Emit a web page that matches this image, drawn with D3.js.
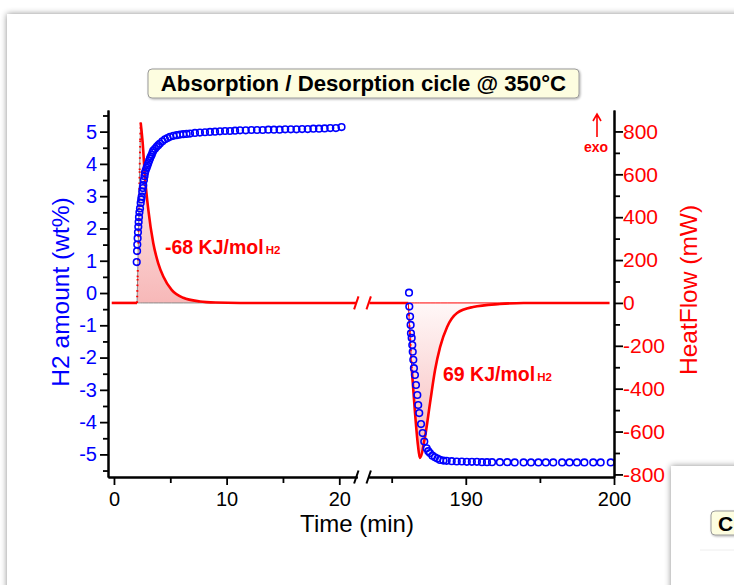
<!DOCTYPE html>
<html>
<head>
<meta charset="utf-8">
<script src="https://cdn.jsdelivr.net/npm/d3@7"></script>
<style>
  body { margin: 0; background: #ffffff; }
  svg { display: block; font-family: "Liberation Sans", Arial, sans-serif; }
</style>
</head>
<body>
<div id="chart"></div>
<script>
// H2 uptake during absorption (min, wt%)
const absTime = [2.02, 2.05, 2.07, 2.10, 2.13, 2.16, 2.19, 2.22, 2.26, 2.31, 2.37, 2.42, 2.46, 2.51, 2.56, 2.60,
                 2.66, 2.71, 2.75, 2.82, 2.90, 2.97, 3.04, 3.12, 3.20, 3.27, 3.35, 3.42, 3.49, 3.64, 3.79, 3.93,
                 4.08, 4.30, 4.53, 4.75, 4.97, 5.27, 5.57, 5.86, 6.15, 6.45, 6.75, 7.19, 7.63, 8.08, 8.52, 8.97,
                 9.41, 9.86, 10.30, 10.75, 11.19, 11.7, 12.2, 12.7, 13.2, 13.7, 14.2, 14.7, 15.2, 15.7, 16.2,
                 16.7, 17.2, 17.7, 18.2, 18.7, 19.2, 19.7, 20.2];
const absWt = [0.96, 1.30, 1.50, 1.70, 1.88, 2.05, 2.20, 2.35, 2.50, 2.62, 2.79, 2.90, 2.99, 3.14, 3.25, 3.34,
               3.50, 3.62, 3.72, 3.80, 3.88, 3.95, 4.02, 4.10, 4.17, 4.23, 4.28, 4.35, 4.41, 4.47, 4.53, 4.58,
               4.63, 4.70, 4.76, 4.80, 4.84, 4.87, 4.89, 4.91, 4.92, 4.93, 4.94, 4.96, 4.97, 4.98, 4.99, 5.00,
               5.01, 5.02, 5.02, 5.03, 5.04, 5.04, 5.05, 5.05, 5.05, 5.06, 5.06, 5.06, 5.07, 5.07, 5.07,
               5.08, 5.08, 5.09, 5.09, 5.10, 5.11, 5.11, 5.14];

// H2 release during desorption (min, wt%)
const desTime = [186.17, 186.19, 186.24, 186.28, 186.30, 186.35, 186.39, 186.42, 186.46, 186.50, 186.57, 186.64,
                 186.73, 186.79, 186.86, 186.98, 187.09, 187.20, 187.36, 187.47, 187.58, 187.75, 187.92, 188.09,
                 188.26, 188.49, 188.71, 189.05, 189.39, 189.73, 190.07, 190.41, 190.75, 191.09, 191.43, 191.77,
                 192.3, 192.8, 193.3, 193.9, 194.4, 194.9, 195.4, 195.9, 196.5, 197.0, 197.5, 198.0, 198.6,
                 199.1, 199.78];
const desWt = [0.01, -0.42, -0.73, -0.99, -1.25, -1.39, -1.61, -1.82, -2.07, -2.33, -2.54, -2.85,
               -3.16, -3.47, -3.72, -4.06, -4.34, -4.60, -4.81, -4.90, -4.96, -5.04, -5.09, -5.13,
               -5.17, -5.19, -5.20, -5.21, -5.22, -5.22, -5.23, -5.23, -5.23, -5.24, -5.24, -5.24,
               -5.24, -5.24, -5.25, -5.25, -5.25, -5.25, -5.25, -5.25, -5.25, -5.25, -5.25, -5.25, -5.25,
               -5.25, -5.25];

// Heat flow (min, mW)
const hfAbsTime = [-0.2, 2.05, 2.10, 2.16, 2.22, 2.28, 2.33, 2.37, 2.55, 2.75, 3.05, 3.49, 3.93, 4.38, 5.12, 6.15,
                   7.63, 9.0, 11.2, 21.5];
const hfAbsFlow = [0, 0, 120, 280, 450, 620, 760, 841, 745, 589, 434, 278, 185, 123, 61, 24, 7, 2, 0, 0];
const hfDesTime = [183.5, 186.12, 186.23, 186.36, 186.56, 186.77, 186.90, 187.25, 187.59, 187.93, 188.27, 188.74,
                   189.41, 190.49, 192.3, 193.9, 199.7];
const hfDesFlow = [0, 0, -140, -312, -499, -662, -723, -625, -466, -312, -205, -112, -47, -19, -5, 0, 0];

// Tick values
const xMajorLeft = [0, 10, 20], xMinorLeft = [5, 15];
const xMajorRight = [190, 200], xMinorRight = [185, 195];
const wtMajor = [-5, -4, -3, -2, -1, 0, 1, 2, 3, 4, 5];
const wtMinor = [-5.5, -4.5, -3.5, -2.5, -1.5, -0.5, 0.5, 1.5, 2.5, 3.5, 4.5, 5.5];
const hfMajor = [-800, -600, -400, -200, 0, 200, 400, 600, 800];
const hfMinor = [-700, -500, -300, -100, 100, 300, 500, 700];

// Integration windows for the shaded peaks
const absPeak = [2.05, 11.2], desPeak = [186.12, 193.9];

const blue = "#0000ff", red = "#ff0000";

//Plot frame
const plot = { left: 108, right: 614, top: 110, bottom: 477, breakL: 357.3, breakR: 368.7 };

const svg = d3.select("#chart")
              .append("svg")
               .attr("width", 734)
               .attr("height", 585);

const defs = svg.append("defs");
const shadow = defs.append("filter")
                   .attr("id", "shadow")
                   .attr("x", "-20%").attr("y", "-20%")
                   .attr("width", "140%").attr("height", "140%");
shadow.append("feDropShadow")
      .attr("dx", 0).attr("dy", 0)
      .attr("stdDeviation", 3)
      .attr("flood-color", "#000")
      .attr("flood-opacity", 0.45);
const smallShadow = defs.append("filter")
                        .attr("id", "smallShadow")
                        .attr("x", "-10%").attr("y", "-30%")
                        .attr("width", "120%").attr("height", "160%");
smallShadow.append("feDropShadow")
           .attr("dx", 1).attr("dy", 1)
           .attr("stdDeviation", 1)
           .attr("flood-color", "#000")
           .attr("flood-opacity", 0.3);
const peakGradient = defs.append("linearGradient")
                         .attr("id", "peakFill")
                         .attr("x1", 0).attr("y1", 0)
                         .attr("x2", 0).attr("y2", 1);
peakGradient.selectAll("stop")
            .data([{ offset: 0, color: "#fff8f8" }, { offset: 1, color: "#f7b8b8" }])
            .enter().append("stop")
             .attr("offset", d => d.offset)
             .attr("stop-color", d => d.color);

// Card behind the chart
svg.append("rect")
   .attr("x", 7).attr("y", 14)
   .attr("width", 800).attr("height", 700)
   .attr("fill", "#fff")
   .attr("filter", "url(#shadow)");

//Scales
const xL = d3.scaleLinear().domain([-0.53, 21.6]).range([plot.left, plot.breakL]);
const xR = d3.scaleLinear().domain([183.45, 200]).range([plot.breakR, plot.right]);
const yWt = d3.scaleLinear().domain([-5.7, 5.67]).range([plot.bottom, plot.top]);
const yHf = d3.scaleLinear().domain([-812, 900]).range([plot.bottom, plot.top]);
function xPos(t) { return t < 100 ? xL(t) : xR(t); }

const g = svg.append("g");

// Shaded peaks
const area = d3.area()
               .x(d => xPos(d[0]))
               .y0(yHf(0))
               .y1(d => yHf(d[1]))
               .curve(d3.curveMonotoneX);
const hfAbs = hfAbsTime.map((t, i) => [t, hfAbsFlow[i]]);
const hfDes = hfDesTime.map((t, i) => [t, hfDesFlow[i]]);
g.append("path")
 .datum(hfAbs.filter(d => d[0] >= absPeak[0] && d[0] <= absPeak[1]))
  .attr("d", area)
  .attr("fill", "url(#peakFill)")
  .attr("stroke", "#8a8a8a")
  .attr("stroke-width", 1);
g.append("path")
 .datum(hfDes.filter(d => d[0] >= desPeak[0] && d[0] <= desPeak[1]))
  .attr("d", area)
  .attr("fill", "url(#peakFill)")
  .attr("stroke", red)
  .attr("stroke-width", 1);

// Heat flow trace: smooth where it is slow, dotted over the steep jumps
function heatFlowPath(pts) {
    const solid = [], dotted = [];
    let cur = [pts[0]];
    for (let i = 1; i < pts.length; i++) {
        const steep = Math.abs(yHf(pts[i][1]) - yHf(pts[i - 1][1])) > 15 * Math.abs(xPos(pts[i][0]) - xPos(pts[i - 1][0]));
        if (steep) {
            if (cur.length > 1) solid.push(cur);
            dotted.push([pts[i - 1], pts[i]]);
            cur = [pts[i]];
        } else {
            cur.push(pts[i]);
        }
    }
    if (cur.length > 1) solid.push(cur);
    const line = d3.line().x(d => xPos(d[0])).y(d => yHf(d[1])).curve(d3.curveMonotoneX);
    dotted.forEach(seg => {
        g.append("path")
         .attr("d", d3.line().x(d => xPos(d[0])).y(d => yHf(d[1]))(seg))
         .attr("fill", "none")
         .attr("stroke", red)
         .attr("stroke-width", 2)
         .attr("stroke-dasharray", "1.6,4");
    });
    solid.forEach(seg => {
        g.append("path")
         .attr("d", line(seg))
         .attr("fill", "none")
         .attr("stroke", red)
         .attr("stroke-width", 2.6)
         .attr("stroke-linejoin", "round");
    });
}
heatFlowPath(hfAbs);
heatFlowPath(hfDes);

// Break marks
function breakMark(x, y, color) {
    g.append("line")
     .attr("x1", x - 2.2).attr("y1", y + 6.5)
     .attr("x2", x + 2.2).attr("y2", y - 6.5)
     .attr("stroke", color)
     .attr("stroke-width", 2);
}
breakMark(plot.breakL - 1, yHf(0), red);
breakMark(plot.breakR, yHf(0), red);

// H2 markers
const absPts = absTime.map((t, i) => [t, absWt[i]]);
const desPts = desTime.map((t, i) => [t, desWt[i]]);
g.selectAll(".wt")
 .data(absPts.concat(desPts))
 .enter().append("circle")
  .attr("class", "wt")
  .attr("cx", d => xPos(d[0]))
  .attr("cy", d => yWt(d[1]))
  .attr("r", 3.3)
  .attr("fill", "none")
  .attr("stroke", blue)
  .attr("stroke-width", 1.6);

//Axes
const plain = d => String(d);
function styleAxis(sel, color, size) {
    sel.selectAll(".domain").attr("stroke", "#000").attr("stroke-width", 2);
    sel.selectAll(".tick line").attr("stroke", "#000").attr("stroke-width", 1.8);
    sel.selectAll("text").attr("fill", color).attr("font-size", size)
       .attr("font-family", "Liberation Sans, Arial, sans-serif");
}
function xAxes(scale, major, minor) {
    g.append("g")
     .attr("transform", "translate(0," + plot.bottom + ")")
     .call(d3.axisBottom(scale).tickValues(minor).tickSize(6).tickSizeOuter(0).tickFormat(""))
     .call(s => styleAxis(s, "#000", "20px"));
    g.append("g")
     .attr("transform", "translate(0," + plot.bottom + ")")
     .call(d3.axisBottom(scale).tickValues(major).tickSize(8).tickPadding(7).tickSizeOuter(0).tickFormat(plain))
     .call(s => styleAxis(s, "#000", "20px"));
}
xAxes(xL, xMajorLeft, xMinorLeft);
xAxes(xR, xMajorRight, xMinorRight);
breakMark(plot.breakL - 1, plot.bottom, "#000");
breakMark(plot.breakR, plot.bottom, "#000");

g.append("g")
 .attr("transform", "translate(" + plot.left + ",0)")
 .call(d3.axisLeft(yWt).tickValues(wtMinor).tickSize(5).tickSizeOuter(0).tickFormat(""))
 .call(s => styleAxis(s, blue, "20px"));
g.append("g")
 .attr("transform", "translate(" + plot.left + ",0)")
 .call(d3.axisLeft(yWt).tickValues(wtMajor).tickSize(8).tickPadding(3).tickSizeOuter(0).tickFormat(plain))
 .call(s => styleAxis(s, blue, "20px"));

g.append("g")
 .attr("transform", "translate(" + plot.right + ",0)")
 .call(d3.axisRight(yHf).tickValues(hfMinor).tickSize(6).tickSizeOuter(0).tickFormat(""))
 .call(s => styleAxis(s, red, "21px"));
g.append("g")
 .attr("transform", "translate(" + plot.right + ",0)")
 .call(d3.axisRight(yHf).tickValues(hfMajor).tickSize(9).tickPadding(0).tickSizeOuter(0).tickFormat(plain))
 .call(s => styleAxis(s, red, "21px"));

//Axis titles
g.append("text")
 .attr("transform", "translate(69,292) rotate(-90)")
 .attr("text-anchor", "middle")
 .attr("font-size", "24.5px")
 .attr("fill", blue)
 .text("H2 amount (wt%)");
g.append("text")
 .attr("transform", "translate(697,290) rotate(-90)")
 .attr("text-anchor", "middle")
 .attr("font-size", "24.5px")
 .attr("fill", red)
 .text("HeatFlow (mW)");
g.append("text")
 .attr("x", 357).attr("y", 532)
 .attr("text-anchor", "middle")
 .attr("font-size", "24px")
 .attr("fill", "#000")
 .text("Time (min)");

// Enthalpy labels
function enthalpy(x, y, value) {
    const t = g.append("text")
               .attr("x", x).attr("y", y)
               .attr("fill", red)
               .attr("font-weight", "bold")
               .attr("font-size", "19.5px");
    t.append("tspan").text(value + " KJ/mol");
    t.append("tspan").attr("font-size", "11.5px").attr("dx", 2).text("H2");
}
enthalpy(165, 254, "-68");
enthalpy(443, 381, "69");

// exo arrow
g.append("path")
 .attr("d", "M597,137 L597,114 M593,121 L597,114 L601,121")
 .attr("fill", "none")
 .attr("stroke", red)
 .attr("stroke-width", 1.6);
g.append("text")
 .attr("x", 596).attr("y", 152)
 .attr("text-anchor", "middle")
 .attr("font-weight", "bold")
 .attr("font-size", "14px")
 .attr("fill", red)
 .text("exo");

//Title box
g.append("rect")
 .attr("x", 148).attr("y", 69)
 .attr("width", 431).attr("height", 29)
 .attr("rx", 4)
 .attr("fill", "#fdfde0")
 .attr("stroke", "#9a9a9a")
 .attr("filter", "url(#smallShadow)");
g.append("text")
 .attr("x", 363.5).attr("y", 91)
 .attr("text-anchor", "middle")
 .attr("font-weight", "bold")
 .attr("font-size", "22.2px")
 .attr("fill", "#000")
 .text("Absorption / Desorption cicle @ 350°C");

// Neighbouring card in the corner
svg.append("rect")
   .attr("x", 671).attr("y", 466)
   .attr("width", 200).attr("height", 200)
   .attr("fill", "#fff")
   .attr("filter", "url(#shadow)");
svg.append("line")
   .attr("x1", 700).attr("y1", 550).attr("x2", 734).attr("y2", 550)
   .attr("stroke", "#eeeeee");
svg.append("rect")
   .attr("x", 711).attr("y", 511)
   .attr("width", 60).attr("height", 24)
   .attr("rx", 4)
   .attr("fill", "#fdfde0")
   .attr("stroke", "#9a9a9a")
   .attr("filter", "url(#smallShadow)");
svg.append("text")
   .attr("x", 718).attr("y", 531)
   .attr("font-weight", "bold")
   .attr("font-size", "21px")
   .attr("fill", "#000")
   .text("C");
</script>
</body>
</html>
